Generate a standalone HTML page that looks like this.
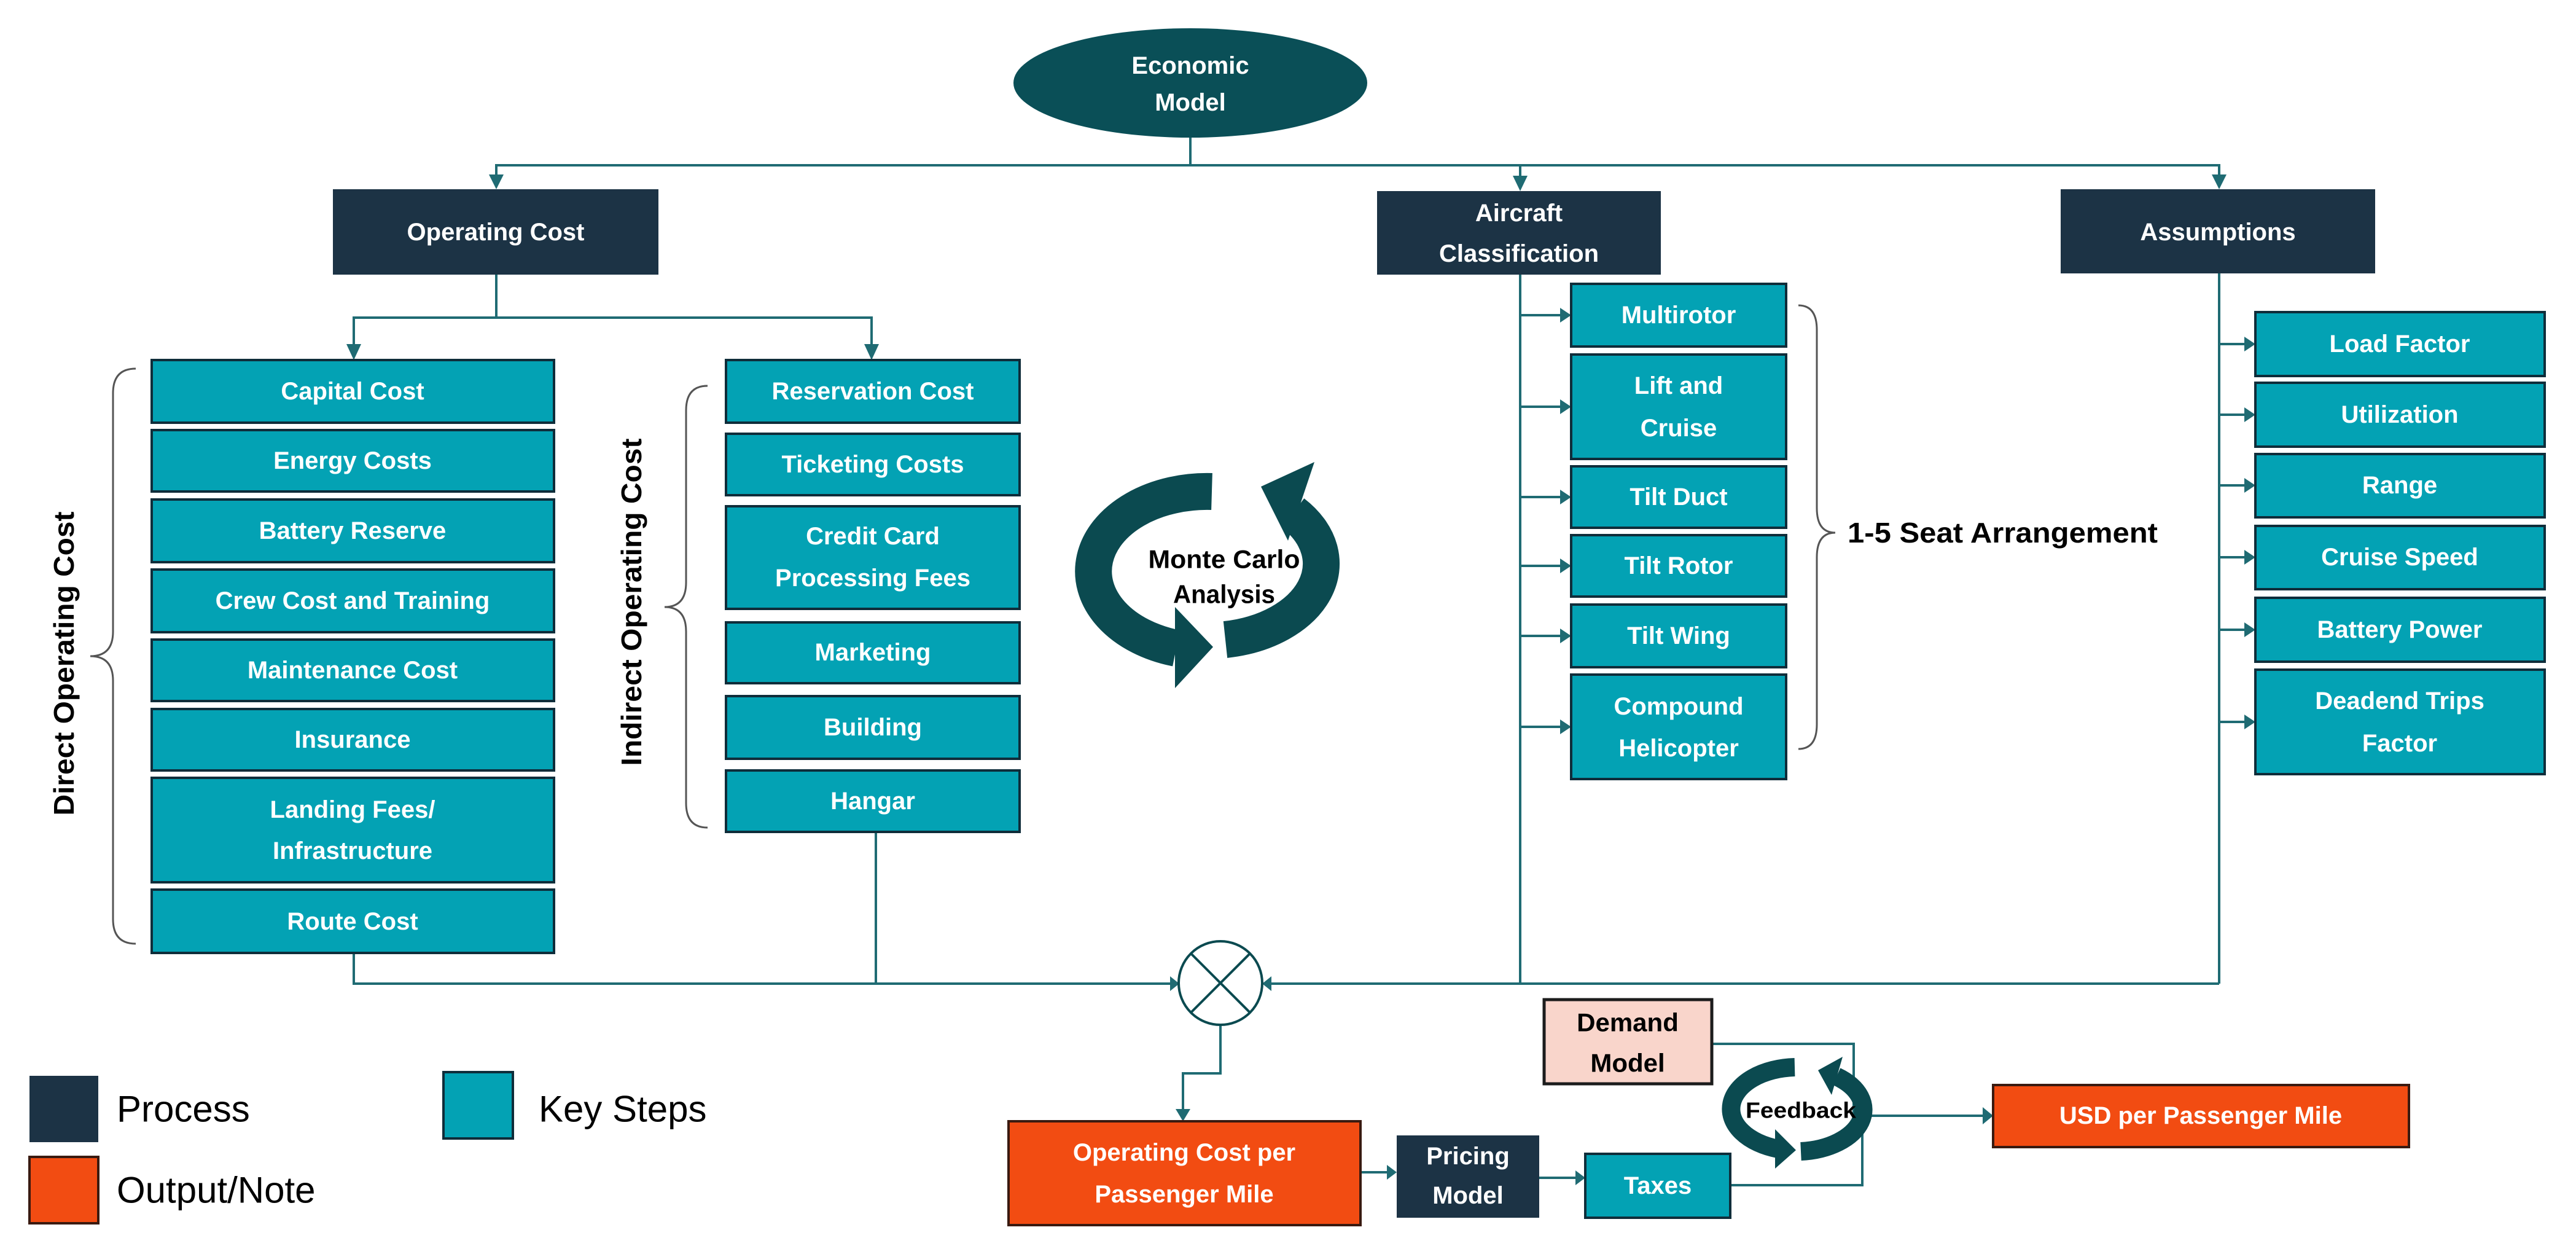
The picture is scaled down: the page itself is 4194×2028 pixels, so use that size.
<!DOCTYPE html>
<html><head><meta charset="utf-8"><style>
html,body{margin:0;padding:0;background:#fff;}
svg{display:block;}
text{font-family:"Liberation Sans",sans-serif;}
.b{fill:#fff;font-weight:bold;font-size:40px;text-anchor:middle;dominant-baseline:central;}
.k{fill:#000;font-weight:bold;text-anchor:middle;dominant-baseline:central;}
</style></head><body>
<svg width="4194" height="2028" viewBox="0 0 4194 2028" xmlns="http://www.w3.org/2000/svg">
<g stroke="#1f6b73" stroke-width="4" fill="none">
<polyline points="1938,224 1938,269"/>
<polyline points="808,300 808,269 3613,269 3613,300"/>
<line x1="2475" y1="269" x2="2475" y2="300"/>
<polyline points="808,447 808,517"/>
<polyline points="576,560 576,517 1419,517 1419,560"/>
<line x1="2475" y1="447" x2="2475" y2="1601"/>
<line x1="3613" y1="445" x2="3613" y2="1601"/>
<polyline points="576,1551 576,1601 1905,1601"/>
<line x1="1426" y1="1354" x2="1426" y2="1601"/>
<line x1="2070" y1="1601" x2="3613" y2="1601"/>
<polyline points="1987,1668 1987,1747 1926,1747 1926,1810"/>
<line x1="2215" y1="1908" x2="2262" y2="1908"/>
<line x1="2506" y1="1917" x2="2569" y2="1917"/>
<polyline points="2787,1699 3018,1699 3018,1816"/>
<polyline points="3032,1816 3032,1929 2817,1929"/>
<line x1="3030" y1="1816" x2="3232" y2="1816"/>
<line x1="2475" y1="513" x2="2546" y2="513"/>
<line x1="2475" y1="662" x2="2546" y2="662"/>
<line x1="2475" y1="809" x2="2546" y2="809"/>
<line x1="2475" y1="921" x2="2546" y2="921"/>
<line x1="2475" y1="1035" x2="2546" y2="1035"/>
<line x1="2475" y1="1183" x2="2546" y2="1183"/>
<line x1="3613" y1="560" x2="3660" y2="560"/>
<line x1="3613" y1="675" x2="3660" y2="675"/>
<line x1="3613" y1="790" x2="3660" y2="790"/>
<line x1="3613" y1="907" x2="3660" y2="907"/>
<line x1="3613" y1="1025" x2="3660" y2="1025"/>
<line x1="3613" y1="1175" x2="3660" y2="1175"/>
</g>
<g fill="#1f6b73">
<polygon points="796,284 820,284 808,308"/>
<polygon points="2463,286 2487,286 2475,311"/>
<polygon points="3601,284 3625,284 3613,308"/>
<polygon points="564,560 588,560 576,586"/>
<polygon points="1407,560 1431,560 1419,586"/>
<polygon points="1905,1589 1905,1613 1920,1601"/>
<polygon points="2070,1589 2070,1613 2055,1601"/>
<polygon points="1914,1805 1938,1805 1926,1825"/>
<polygon points="2258,1896 2258,1920 2274,1908"/>
<polygon points="2565,1905 2565,1929 2581,1917"/>
<polygon points="3228,1802 3228,1830 3245,1816"/>
<polygon points="2540,501 2540,525 2558,513"/>
<polygon points="2540,650 2540,674 2558,662"/>
<polygon points="2540,797 2540,821 2558,809"/>
<polygon points="2540,909 2540,933 2558,921"/>
<polygon points="2540,1023 2540,1047 2558,1035"/>
<polygon points="2540,1171 2540,1195 2558,1183"/>
<polygon points="3654,548 3654,572 3672,560"/>
<polygon points="3654,663 3654,687 3672,675"/>
<polygon points="3654,778 3654,802 3672,790"/>
<polygon points="3654,895 3654,919 3672,907"/>
<polygon points="3654,1013 3654,1037 3672,1025"/>
<polygon points="3654,1163 3654,1187 3672,1175"/>
</g>
<circle cx="1987" cy="1600" r="68" fill="#fff" stroke="#0b4a50" stroke-width="4"/>
<line x1="1939" y1="1552" x2="2035" y2="1648" stroke="#0b4a50" stroke-width="4"/>
<line x1="2035" y1="1552" x2="1939" y2="1648" stroke="#0b4a50" stroke-width="4"/>
<ellipse cx="1938" cy="135" rx="288" ry="89" fill="#0a4f57"/>
<text class="b" x="1938" y="107" font-size="44">Economic</text>
<text class="b" x="1938" y="167" font-size="44">Model</text>
<g fill="#1c3345">
<rect x="542" y="308" width="530" height="139"/>
<rect x="2242" y="311" width="462" height="136"/>
<rect x="3355" y="308" width="512" height="137"/>
<rect x="2274" y="1848" width="232" height="134"/>
</g>
<text class="b" x="807" y="378" font-size="44">Operating Cost</text>
<text class="b" x="2473" y="347" font-size="44">Aircraft</text>
<text class="b" x="2473" y="413" font-size="44">Classification</text>
<text class="b" x="3611" y="378" font-size="44">Assumptions</text>
<text class="b" x="2390" y="1882" font-size="38">Pricing</text>
<text class="b" x="2390" y="1946" font-size="38">Model</text>
<g fill="#03a2b4" stroke="#0f2d3a" stroke-width="4">
<rect x="247" y="586" width="655" height="102"/>
<rect x="247" y="700" width="655" height="100"/>
<rect x="247" y="813" width="655" height="102"/>
<rect x="247" y="927" width="655" height="102"/>
<rect x="247" y="1041" width="655" height="100"/>
<rect x="247" y="1154" width="655" height="100"/>
<rect x="247" y="1266" width="655" height="170"/>
<rect x="247" y="1448" width="655" height="103"/>
<rect x="1182" y="586" width="478" height="102"/>
<rect x="1182" y="706" width="478" height="100"/>
<rect x="1182" y="824" width="478" height="167"/>
<rect x="1182" y="1013" width="478" height="99"/>
<rect x="1182" y="1133" width="478" height="102"/>
<rect x="1182" y="1254" width="478" height="100"/>
<rect x="2558" y="462" width="350" height="102"/>
<rect x="2558" y="577" width="350" height="170"/>
<rect x="2558" y="759" width="350" height="100"/>
<rect x="2558" y="871" width="350" height="100"/>
<rect x="2558" y="984" width="350" height="102"/>
<rect x="2558" y="1098" width="350" height="170"/>
<rect x="3672" y="508" width="471" height="104"/>
<rect x="3672" y="623" width="471" height="104"/>
<rect x="3672" y="739" width="471" height="103"/>
<rect x="3672" y="856" width="471" height="103"/>
<rect x="3672" y="973" width="471" height="104"/>
<rect x="3672" y="1090" width="471" height="170"/>
<rect x="2581" y="1878" width="236" height="104"/>
</g>
<g>
<text class="b" x="574" y="637">Capital Cost</text>
<text class="b" x="574" y="750">Energy Costs</text>
<text class="b" x="574" y="864">Battery Reserve</text>
<text class="b" x="574" y="978">Crew Cost and Training</text>
<text class="b" x="574" y="1091">Maintenance Cost</text>
<text class="b" x="574" y="1204">Insurance</text>
<text class="b" x="574" y="1318">Landing Fees/</text>
<text class="b" x="574" y="1385">Infrastructure</text>
<text class="b" x="574" y="1500">Route Cost</text>
<text class="b" x="1421" y="637">Reservation Cost</text>
<text class="b" x="1421" y="756">Ticketing Costs</text>
<text class="b" x="1421" y="873">Credit Card</text>
<text class="b" x="1421" y="941">Processing Fees</text>
<text class="b" x="1421" y="1062">Marketing</text>
<text class="b" x="1421" y="1184">Building</text>
<text class="b" x="1421" y="1304">Hangar</text>
<text class="b" x="2733" y="513">Multirotor</text>
<text class="b" x="2733" y="628">Lift and</text>
<text class="b" x="2733" y="697">Cruise</text>
<text class="b" x="2733" y="809">Tilt Duct</text>
<text class="b" x="2733" y="921">Tilt Rotor</text>
<text class="b" x="2733" y="1035">Tilt Wing</text>
<text class="b" x="2733" y="1150">Compound</text>
<text class="b" x="2733" y="1218">Helicopter</text>
<text class="b" x="3907" y="560">Load Factor</text>
<text class="b" x="3907" y="675">Utilization</text>
<text class="b" x="3907" y="790">Range</text>
<text class="b" x="3907" y="907">Cruise Speed</text>
<text class="b" x="3907" y="1025">Battery Power</text>
<text class="b" x="3907" y="1141">Deadend Trips</text>
<text class="b" x="3907" y="1210">Factor</text>
<text class="b" x="2699" y="1930">Taxes</text>
</g>
<rect x="1642" y="1825" width="573" height="169" fill="#f24c12" stroke="#3a1a10" stroke-width="4"/>
<text class="b" x="1928" y="1876" font-size="42">Operating Cost per</text>
<text class="b" x="1928" y="1944" font-size="42">Passenger Mile</text>
<rect x="3245" y="1766" width="677" height="101" fill="#f24c12" stroke="#3a1a10" stroke-width="4"/>
<text class="b" x="3583" y="1816" font-size="42">USD per Passenger Mile</text>
<rect x="2514" y="1627" width="273" height="137" fill="#f9d5cb" stroke="#1c1c1c" stroke-width="5"/>
<text class="k" x="2650" y="1664" font-size="42">Demand</text>
<text class="k" x="2650" y="1730" font-size="42">Model</text>
<g stroke="#555" stroke-width="3" fill="none">
<path d="M221,600 Q184,600 184,640 L184,1028 Q184,1068 147,1068 Q184,1068 184,1108 L184,1496 Q184,1536 221,1536"/>
<path d="M1152,628 Q1117,628 1117,668 L1117,948 Q1117,988 1082,988 Q1117,988 1117,1028 L1117,1307 Q1117,1347 1152,1347"/>
<path d="M2928,497 Q2958,497 2958,537 L2958,827 Q2958,867 2988,867 Q2958,867 2958,907 L2958,1179 Q2958,1219 2928,1219"/>
</g>
<text class="k" font-size="46" transform="translate(104,1080) rotate(-90)" textLength="495" lengthAdjust="spacingAndGlyphs">Direct Operating Cost</text>
<text class="k" font-size="46" transform="translate(1028,980) rotate(-90)" textLength="533" lengthAdjust="spacingAndGlyphs">Indirect Operating Cost</text>
<text class="k" font-size="46" x="3008" y="867" style="text-anchor:start" textLength="505" lengthAdjust="spacingAndGlyphs">1-5 Seat Arrangement</text>
<!-- Monte Carlo arrows -->
<g fill="none" stroke="#0b4a50" stroke-width="60">
<path d="M1973,800 A185,130 0 0 0 1915,1055"/>
<path d="M1995,1041 A185,125 0 0 0 2105,835"/>
</g>
<g fill="#0b4a50">
<polygon points="1913,988 1975,1053 1913,1120"/>
<polygon points="2140,752 2053,792 2097,880"/>
</g>
<text class="k" x="1993" y="910" font-size="42" textLength="247" lengthAdjust="spacingAndGlyphs">Monte Carlo</text>
<text class="k" x="1993" y="967" font-size="42" textLength="166" lengthAdjust="spacingAndGlyphs">Analysis</text>
<!-- Feedback arrows -->
<g fill="none" stroke="#0b4a50" stroke-width="30">
<path d="M2922,1737 A108,68 0 0 0 2895,1870"/>
<path d="M2932,1874 A110,68 0 0 0 2990,1752"/>
</g>
<g fill="#0b4a50">
<polygon points="2890,1838 2924,1872 2890,1902"/>
<polygon points="3000,1720 2960,1742 2982,1782"/>
</g>
<text class="k" x="2932" y="1807" font-size="36" textLength="180" lengthAdjust="spacingAndGlyphs">Feedback</text>
<rect x="48" y="1751" width="112" height="108" fill="#1c3345"/>
<text x="190" y="1805" font-size="60" dominant-baseline="central">Process</text>
<rect x="722" y="1745" width="113" height="108" fill="#03a2b4" stroke="#0f2d3a" stroke-width="4"/>
<text x="877" y="1805" font-size="60" dominant-baseline="central">Key Steps</text>
<rect x="48" y="1883" width="112" height="108" fill="#f24c12" stroke="#3a1a10" stroke-width="4"/>
<text x="190" y="1937" font-size="60" dominant-baseline="central">Output/Note</text>
</svg>
</body></html>
